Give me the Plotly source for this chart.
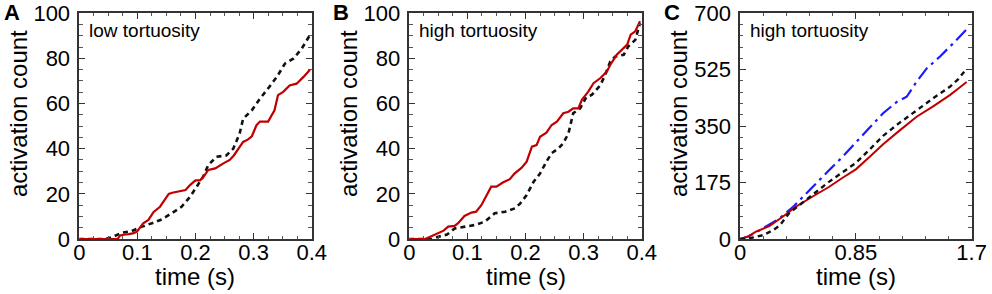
import plotly.graph_objects as go

# ---------------- data ----------------
# Panel A (low tortuosity)
a_red_t = [0, 0.066, 0.070, 0.073, 0.085, 0.092, 0.099, 0.105, 0.110, 0.119,
           0.124, 0.128, 0.139, 0.145, 0.154, 0.160, 0.168, 0.183, 0.191, 0.200,
           0.208, 0.215, 0.222, 0.234, 0.248, 0.259, 0.266, 0.273, 0.282, 0.290,
           0.297, 0.305, 0.311, 0.325, 0.336, 0.342, 0.351, 0.362, 0.374, 0.386, 0.397]
a_red_y = [0, 0, 1.5, 1.8, 2.2, 2.5, 3.2, 5, 7, 8.5,
           10.5, 12, 14.3, 16.5, 20, 20.5, 21, 21.7, 24, 26,
           26, 28, 30.6, 31.3, 33.5, 35, 37, 39.5, 43, 44,
           45.5, 50.4, 52, 52, 57, 63.7, 65.2, 68, 68.8, 71.8, 75]
a_blk_t = [0, 0.044, 0.056, 0.073, 0.090, 0.108, 0.125, 0.142, 0.159, 0.176, 0.191,
           0.202, 0.213, 0.222, 0.236, 0.253, 0.265, 0.276, 0.282, 0.297, 0.311,
           0.325, 0.340, 0.354, 0.369, 0.383, 0.397]
a_blk_y = [0, 0, 0.7, 2.8, 3.5, 5.5, 7, 8.7, 11.4, 14.3, 18.8,
           23, 27.5, 32.7, 36.4, 37, 40, 46.7, 53.3, 57, 62.2,
           66.7, 71.8, 77.7, 80, 84.4, 90.3]

# Panel B (high tortuosity)
b_red_t = [0, 0.027, 0.036, 0.047, 0.059, 0.067, 0.078, 0.084, 0.095, 0.107,
           0.115, 0.124, 0.133, 0.141, 0.150, 0.161, 0.173, 0.181, 0.193, 0.202,
           0.211, 0.219, 0.225, 0.236, 0.245, 0.254, 0.265, 0.274, 0.282, 0.291,
           0.297, 0.308, 0.317, 0.329, 0.340, 0.346, 0.357, 0.366, 0.375, 0.381,
           0.389, 0.397]
b_red_y = [0, 0, 1, 2.2, 3.7, 5.5, 5.8, 7, 10.2, 11.7,
           12.1, 15, 19.5, 23.2, 23.2, 25, 26.5, 29, 31.5, 34.3,
           40.9, 41.6, 45.3, 47.1, 50.5, 52, 55.7, 56.4, 57.9, 57.9,
           61.6, 65.3, 69, 71.3, 74.2, 77.2, 81.6, 83.8, 86.1, 90.5,
           92, 96.5]
b_blk_t = [0, 0.039, 0.050, 0.065, 0.078, 0.095, 0.113, 0.130, 0.147, 0.165,
           0.182, 0.191, 0.202, 0.214, 0.225, 0.236, 0.245, 0.257, 0.265, 0.274,
           0.282, 0.294, 0.305, 0.314, 0.329, 0.337, 0.346, 0.354, 0.369, 0.377,
           0.389, 0.397]
b_blk_y = [0, 0, 1, 2, 4.7, 5.5, 6.2, 7.7, 11.4, 12.1,
           13.6, 15.8, 19.5, 25.4, 29, 34.3, 38, 40.2, 42.4, 46.9,
           55.7, 57.9, 63, 63.8, 68.2, 72.7, 78.6, 80.8, 81.6, 85.3,
           88.2, 95.6]

# Panel C (high tortuosity, longer time)
c_red_t = [0, 0.06, 0.117, 0.215, 0.313, 0.41, 0.53, 0.655, 0.753, 0.85,
           0.95, 1.05, 1.17, 1.296, 1.42, 1.54, 1.60, 1.663]
c_red_y = [0, 8, 23, 40, 69, 100, 131, 162, 190, 216,
           254, 294, 336, 379, 412, 446, 466, 487]
c_blk_t = [0, 0.06, 0.098, 0.17, 0.245, 0.293, 0.36, 0.46, 0.56, 0.655,
           0.753, 0.85, 0.95, 1.05, 1.17, 1.296, 1.42, 1.54, 1.60, 1.663]
c_blk_y = [0, 1, 5, 12, 28, 43, 80, 113, 148, 178,
           207, 236, 277, 320, 360, 400, 437, 472, 495, 528]
c_blu_t = [0, 0.06, 0.117, 0.2, 0.29, 0.39, 0.46, 0.557, 0.655, 0.753,
           0.85, 0.95, 1.05, 1.15, 1.223, 1.296, 1.37, 1.468, 1.565, 1.663]
c_blu_y = [0, 8, 20, 40, 64, 100, 131, 172, 214, 255,
           301, 345, 390, 425, 441, 488, 529, 566, 607, 650]

ab_xticks = [0, 0.1, 0.2, 0.3, 0.4]
ab_xlabels = ["0", "0.1", "0.2", "0.3", "0.4"]
ab_yticks = [0, 20, 40, 60, 80, 100]
c_xticks = [0, 0.85, 1.7]
c_xlabels = ["0", "0.85", "1.7"]
c_yticks = [0, 175, 350, 525, 700]

panel_letters = ["A", "B", "C"]
panel_notes = ["low tortuosity", "high tortuosity", "high tortuosity"]
x_title = "time (s)"
y_title = "activation count"

RED = "#c00000"
BLACK = "#111111"
BLUE = "#1a1aff"
FONT = "Liberation Sans, Arial, sans-serif"

fig = go.Figure()

def add(t, y, ax, color, dash, width):
    fig.add_trace(go.Scatter(x=t, y=y, mode="lines", xaxis=ax[0], yaxis=ax[1],
                             line=dict(color=color, dash=dash, width=width),
                             showlegend=False, hoverinfo="skip"))

add(a_blk_t, a_blk_y, ("x", "y"), BLACK, "5px,4px", 2.6)
add(a_red_t, a_red_y, ("x", "y"), RED, "solid", 2.2)
add(b_blk_t, b_blk_y, ("x2", "y2"), BLACK, "5px,4px", 2.6)
add(b_red_t, b_red_y, ("x2", "y2"), RED, "solid", 2.2)
add(c_blu_t, c_blu_y, ("x3", "y3"), BLUE, "14px,5px,3px,5px", 2.2)
add(c_red_t, c_red_y, ("x3", "y3"), RED, "solid", 2.0)
add(c_blk_t, c_blk_y, ("x3", "y3"), BLACK, "5px,4px", 2.4)

common = dict(showline=True, linecolor="#333333", linewidth=1.5, mirror="allticks",
              ticks="inside", ticklen=6, tickwidth=1.2, tickcolor="#333333",
              showgrid=False, zeroline=False, automargin=False,
              tickfont=dict(family=FONT, size=22, color="black"))

xdoms = [[0.0799, 0.3142], [0.4126, 0.6469], [0.746, 0.9795]]
ydom = [0.187, 0.955]

layout = dict(width=992, height=294, margin=dict(l=0, r=0, t=0, b=0),
              paper_bgcolor="white", plot_bgcolor="white",
              font=dict(family=FONT, color="black"))

for i in range(3):
    sx = "" if i == 0 else str(i + 1)
    if i < 2:
        xr, xt, xl, xm = [0, 0.4], ab_xticks, ab_xlabels, 0.025
        yr, yt, ym = [0, 100], ab_yticks, 5
    else:
        xr, xt, xl, xm = [0, 1.7], c_xticks, c_xlabels, 0.17
        yr, yt, ym = [0, 700], c_yticks, 35
    layout["xaxis" + sx] = dict(common, domain=xdoms[i], range=xr, anchor="y" + sx,
                                tickvals=xt, ticktext=xl, ticklabelstandoff=-7,
                                minor=dict(ticks="inside", ticklen=3.5, tickwidth=1,
                                           tickcolor="#555555", dtick=xm, tick0=0))
    layout["yaxis" + sx] = dict(common, domain=ydom, range=yr, anchor="x" + sx,
                                tickvals=yt, ticklabelstandoff=3,
                                minor=dict(ticks="inside", ticklen=3.5, tickwidth=1,
                                           tickcolor="#555555", dtick=ym, tick0=0))

fig.update_layout(**layout)

letter_x = [0.0125, 0.3437, 0.677]
ytitle_x = [18, 348, 678]
for i in range(3):
    sx = "" if i == 0 else str(i + 1)
    fig.add_annotation(text="<b>%s</b>" % panel_letters[i], xref="paper", yref="paper",
                       x=letter_x[i], y=0.956, xanchor="center", yanchor="middle",
                       showarrow=False, font=dict(size=22, family=FONT, color="black"))
    fig.add_annotation(text=panel_notes[i], xref="x%s domain" % sx, yref="y%s domain" % sx,
                       x=0.035, y=0.922, xanchor="left", yanchor="middle",
                       showarrow=False, font=dict(size=19, family=FONT, color="black"))
    # axis titles
    fig.add_annotation(text=x_title, xref="x%s domain" % sx, yref="paper",
                       x=0.5, y=1 - 276 / 294, xanchor="center", yanchor="middle",
                       showarrow=False, font=dict(size=24, family=FONT, color="black"))
    fig.add_annotation(text=y_title, xref="paper", yref="paper",
                       x=ytitle_x[i] / 992, y=1 - 114 / 294, xanchor="center", yanchor="middle",
                       textangle=-90, showarrow=False,
                       font=dict(size=24, family=FONT, color="black"))

fig.write_html("out.html", config={"displayModeBar": False},
               post_script="document.body.style.margin='0';document.body.style.padding='0';")
